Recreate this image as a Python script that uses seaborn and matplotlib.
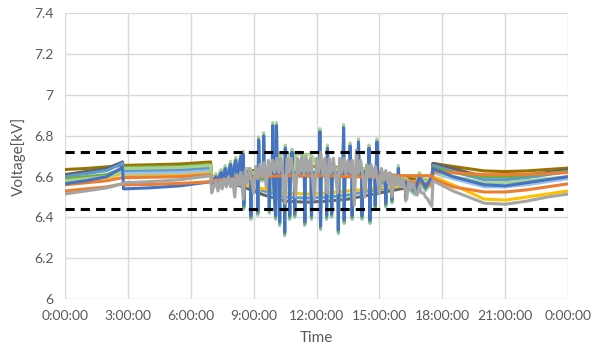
import matplotlib
matplotlib.use("Agg")
import matplotlib.pyplot as plt
import pandas as pd
import seaborn as sns

# time of day in hours
night_hours = [0, 1, 2, 2.75, 2.8, 4, 5.5, 6.95, 7.0]
evening_hours = [17.5, 17.55, 18.5, 20, 21, 22, 23, 24]
smooth_mid_hours = [7.5, 8.5, 9.5, 10.5, 11.5, 12.5, 13.5, 14.5, 15.5, 16.5]
spike_mid_hours = [7.05, 7.2, 7.25, 7.45, 7.5, 7.65, 7.7, 7.9, 7.95, 8.15,
                   8.2, 8.4, 8.45, 8.5, 8.53, 8.56, 8.85, 8.87, 8.9, 9.18,
                   9.2, 9.24, 9.28, 9.46, 9.48, 9.5, 9.73, 9.75, 9.78, 9.89,
                   9.91, 9.94, 10.05, 10.09, 10.12, 10.22, 10.24, 10.27, 10.46, 10.48,
                   10.51, 10.54, 10.7, 10.72, 10.75, 10.81, 10.83, 10.86, 10.94, 10.96,
                   10.99, 11.42, 11.44, 11.47, 11.74, 11.76, 11.79, 12.13, 12.16, 12.19,
                   12.22, 12.46, 12.48, 12.52, 12.55, 12.7, 12.72, 12.75, 13.02, 13.04,
                   13.07, 13.26, 13.29, 13.32, 13.35, 13.58, 13.6, 13.63, 13.68, 13.7,
                   13.73, 13.98, 14.0, 14.03, 14.15, 14.17, 14.2, 14.48, 14.5, 14.55,
                   14.58, 14.78, 14.8, 14.88, 14.92, 15.28, 15.3, 15.33, 15.58, 15.6,
                   15.63, 15.88, 15.9, 15.93, 16.23, 16.25, 16.28, 16.7, 16.9, 17.2, 17.45]
gray_mid_hours = [7.1, 7.2, 7.3, 7.4, 7.5, 7.6, 7.7, 7.8, 7.9, 8.0,
                  8.1, 8.2, 8.3, 8.4, 8.5, 8.6, 8.7, 8.8, 8.9, 9.0,
                  9.1, 9.2, 9.3, 9.4, 9.5, 9.6, 9.7, 9.8, 9.9, 10.0,
                  10.1, 10.2, 10.3, 10.4, 10.5, 10.6, 10.7, 10.8, 10.9, 11.0,
                  11.1, 11.2, 11.3, 11.4, 11.5, 11.6, 11.7, 11.8, 11.9, 12.0,
                  12.1, 12.2, 12.3, 12.4, 12.5, 12.6, 12.7, 12.8, 12.9, 13.0,
                  13.1, 13.2, 13.3, 13.4, 13.5, 13.6, 13.7, 13.8, 13.9, 14.0,
                  14.1, 14.2, 14.3, 14.4, 14.5, 14.6, 14.7, 14.8, 14.9, 15.0,
                  15.1, 15.2, 15.3, 15.4, 15.5, 15.6, 15.7, 15.8, 15.9, 16.0,
                  16.1, 16.2, 16.3, 16.4, 16.5, 16.6, 16.7, 16.8, 16.9, 17.0,
                  17.1, 17.2, 17.3, 17.4]

smooth_hours = night_hours + smooth_mid_hours + evening_hours
spike_hours = night_hours + spike_mid_hours + evening_hours
gray_hours = night_hours + gray_mid_hours + evening_hours

# voltage [kV] of each node
olive = [6.635, 6.64, 6.648, 6.655, 6.655, 6.658, 6.662, 6.672, 6.60,
         6.60, 6.62, 6.64, 6.65, 6.65, 6.65, 6.64, 6.63, 6.61, 6.59,
         6.58, 6.665, 6.65, 6.628, 6.625, 6.628, 6.635, 6.642]
dark_gray = [6.61, 6.625, 6.64, 6.672, 6.62, 6.622, 6.627, 6.635, 6.59,
             6.58, 6.55, 6.51, 6.48, 6.475, 6.48, 6.49, 6.51, 6.53, 6.55,
             6.57, 6.665, 6.64, 6.60, 6.60, 6.61, 6.62, 6.635]
light_blue = [6.60, 6.615, 6.63, 6.665, 6.628, 6.63, 6.635, 6.645, 6.59,
              6.58, 6.56, 6.53, 6.50, 6.495, 6.50, 6.51, 6.53, 6.545, 6.56,
              6.57, 6.655, 6.625, 6.585, 6.585, 6.595, 6.61, 6.625]
gold = [6.575, 6.585, 6.595, 6.615, 6.605, 6.607, 6.61, 6.62, 6.575,
        6.575, 6.56, 6.54, 6.52, 6.515, 6.52, 6.53, 6.54, 6.55, 6.555,
        6.55, 6.60, 6.56, 6.49, 6.485, 6.50, 6.515, 6.53]
orange2 = [6.56, 6.57, 6.58, 6.595, 6.595, 6.597, 6.60, 6.61, 6.585,
           6.59, 6.60, 6.605, 6.61, 6.61, 6.61, 6.605, 6.60, 6.59, 6.575,
           6.56, 6.625, 6.62, 6.61, 6.61, 6.612, 6.615, 6.62]
orange = [6.53, 6.54, 6.55, 6.565, 6.56, 6.562, 6.567, 6.575, 6.58,
          6.585, 6.59, 6.60, 6.605, 6.605, 6.605, 6.60, 6.60, 6.605, 6.605,
          6.605, 6.59, 6.55, 6.525, 6.525, 6.535, 6.55, 6.565]

blue = [6.565, 6.58, 6.60, 6.645, 6.54, 6.545, 6.555, 6.575, 6.56,
        6.57, 6.60, 6.57, 6.62, 6.58, 6.64, 6.58, 6.66, 6.59, 6.68,
        6.60, 6.70, 6.60, 6.71, 6.46, 6.62, 6.62, 6.41, 6.60, 6.60,
        6.43, 6.78, 6.60, 6.60, 6.80, 6.60, 6.60, 6.44, 6.62, 6.62,
        6.85, 6.60, 6.41, 6.85, 6.62, 6.62, 6.38, 6.64, 6.62, 6.33,
        6.74, 6.62, 6.62, 6.41, 6.62, 6.62, 6.72, 6.62, 6.62, 6.42,
        6.62, 6.62, 6.38, 6.62, 6.62, 6.41, 6.62, 6.62, 6.82, 6.36,
        6.62, 6.62, 6.41, 6.74, 6.62, 6.62, 6.42, 6.62, 6.62, 6.34,
        6.62, 6.62, 6.84, 6.39, 6.62, 6.62, 6.75, 6.62, 6.62, 6.41,
        6.62, 6.62, 6.77, 6.62, 6.62, 6.41, 6.62, 6.62, 6.74, 6.39,
        6.62, 6.60, 6.46, 6.77, 6.58, 6.58, 6.47, 6.58, 6.58, 6.49,
        6.58, 6.58, 6.64, 6.58, 6.57, 6.50, 6.57, 6.53, 6.60, 6.55, 6.59,
        6.60, 6.64, 6.60, 6.56, 6.555, 6.57, 6.585, 6.60]
light_green = [6.58, 6.59, 6.60, 6.62, 6.64, 6.642, 6.645, 6.655, 6.58,
               6.58, 6.615, 6.585, 6.635, 6.595, 6.655, 6.595, 6.675, 6.605, 6.695,
               6.615, 6.715, 6.62, 6.725, 6.50, 6.64, 6.64, 6.45, 6.62, 6.62,
               6.47, 6.795, 6.62, 6.62, 6.815, 6.62, 6.62, 6.48, 6.64, 6.64,
               6.865, 6.62, 6.45, 6.865, 6.64, 6.71, 6.42, 6.71, 6.71, 6.37,
               6.755, 6.71, 6.71, 6.45, 6.71, 6.71, 6.735, 6.71, 6.71, 6.46,
               6.71, 6.71, 6.42, 6.71, 6.71, 6.45, 6.70, 6.64, 6.835, 6.40,
               6.64, 6.64, 6.45, 6.755, 6.64, 6.64, 6.46, 6.64, 6.64, 6.38,
               6.64, 6.64, 6.855, 6.43, 6.64, 6.64, 6.765, 6.64, 6.64, 6.45,
               6.64, 6.64, 6.785, 6.64, 6.64, 6.45, 6.64, 6.64, 6.755, 6.43,
               6.64, 6.62, 6.50, 6.785, 6.60, 6.60, 6.51, 6.60, 6.60, 6.53,
               6.60, 6.60, 6.655, 6.60, 6.59, 6.54, 6.59, 6.55, 6.62, 6.57, 6.60,
               6.56, 6.63, 6.60, 6.57, 6.57, 6.58, 6.59, 6.60]
green = [6.59, 6.60, 6.61, 6.64, 6.645, 6.647, 6.65, 6.66, 6.58,
         6.565, 6.59, 6.565, 6.61, 6.575, 6.63, 6.575, 6.65, 6.585, 6.67,
         6.595, 6.69, 6.595, 6.70, 6.45, 6.61, 6.61, 6.40, 6.59, 6.59,
         6.42, 6.75, 6.59, 6.59, 6.77, 6.59, 6.59, 6.43, 6.61, 6.61,
         6.82, 6.59, 6.40, 6.82, 6.61, 6.61, 6.37, 6.63, 6.61, 6.32,
         6.71, 6.61, 6.61, 6.40, 6.61, 6.61, 6.69, 6.61, 6.61, 6.41,
         6.61, 6.61, 6.37, 6.61, 6.61, 6.40, 6.61, 6.61, 6.79, 6.35,
         6.61, 6.61, 6.40, 6.71, 6.61, 6.61, 6.41, 6.61, 6.61, 6.33,
         6.61, 6.61, 6.81, 6.38, 6.61, 6.61, 6.72, 6.61, 6.61, 6.40,
         6.61, 6.61, 6.74, 6.61, 6.61, 6.40, 6.61, 6.61, 6.71, 6.38,
         6.61, 6.59, 6.45, 6.74, 6.57, 6.57, 6.46, 6.57, 6.57, 6.48,
         6.57, 6.57, 6.62, 6.57, 6.56, 6.49, 6.56, 6.52, 6.59, 6.54, 6.58,
         6.56, 6.645, 6.62, 6.60, 6.60, 6.605, 6.615, 6.625]
pale_blue = [6.585, 6.595, 6.605, 6.625, 6.615, 6.617, 6.62, 6.63, 6.575,
             6.56, 6.58, 6.56, 6.60, 6.57, 6.62, 6.57, 6.64, 6.58, 6.66,
             6.59, 6.68, 6.59, 6.69, 6.44, 6.60, 6.60, 6.39, 6.58, 6.58,
             6.41, 6.73, 6.58, 6.58, 6.75, 6.58, 6.58, 6.42, 6.60, 6.60,
             6.80, 6.58, 6.39, 6.80, 6.60, 6.60, 6.36, 6.62, 6.60, 6.31,
             6.69, 6.60, 6.60, 6.39, 6.60, 6.60, 6.67, 6.60, 6.60, 6.40,
             6.60, 6.60, 6.36, 6.60, 6.60, 6.39, 6.60, 6.60, 6.77, 6.34,
             6.60, 6.60, 6.39, 6.69, 6.60, 6.60, 6.40, 6.60, 6.60, 6.32,
             6.60, 6.60, 6.79, 6.37, 6.60, 6.60, 6.70, 6.60, 6.60, 6.39,
             6.60, 6.60, 6.72, 6.60, 6.60, 6.39, 6.60, 6.60, 6.69, 6.37,
             6.60, 6.58, 6.44, 6.72, 6.56, 6.56, 6.45, 6.56, 6.56, 6.47,
             6.56, 6.56, 6.60, 6.56, 6.55, 6.48, 6.55, 6.51, 6.58, 6.53, 6.57,
             6.55, 6.62, 6.59, 6.55, 6.55, 6.56, 6.575, 6.59]

gray = [6.515, 6.53, 6.545, 6.565, 6.57, 6.575, 6.585, 6.605, 6.52,
        6.55, 6.58, 6.53, 6.58, 6.54, 6.59, 6.55, 6.60, 6.55, 6.59,
        6.50, 6.61, 6.56, 6.62, 6.49, 6.63, 6.57, 6.64, 6.58, 6.52,
        6.65, 6.59, 6.66, 6.60, 6.67, 6.55, 6.68, 6.61, 6.68, 6.62,
        6.69, 6.62, 6.69, 6.61, 6.47, 6.69, 6.62, 6.69, 6.61, 6.50,
        6.69, 6.62, 6.70, 6.61, 6.70, 6.62, 6.69, 6.60, 6.49, 6.69,
        6.62, 6.72, 6.61, 6.69, 6.52, 6.69, 6.62, 6.69, 6.61, 6.52,
        6.69, 6.62, 6.69, 6.61, 6.68, 6.62, 6.68, 6.46, 6.73, 6.62,
        6.68, 6.61, 6.50, 6.66, 6.60, 6.66, 6.59, 6.65, 6.59, 6.52,
        6.64, 6.58, 6.63, 6.57, 6.62, 6.50, 6.61, 6.56, 6.60, 6.55,
        6.59, 6.55, 6.49, 6.58, 6.54, 6.57, 6.53, 6.51, 6.55, 6.52,
        6.52, 6.50, 6.49, 6.47,
        6.455, 6.58, 6.53, 6.47, 6.465, 6.48, 6.50, 6.515]

# drawing order (first = bottom): values, time grid, colour
series = {
    "olive": (olive, smooth_hours, "#997300"),
    "dark_gray": (dark_gray, smooth_hours, "#636363"),
    "light_blue": (light_blue, smooth_hours, "#5B9BD5"),
    "gold": (gold, smooth_hours, "#FFC000"),
    "pale_blue": (pale_blue, spike_hours, "#9DC3E6"),
    "green": (green, spike_hours, "#70AD47"),
    "light_green": (light_green, spike_hours, "#A9D18E"),
    "orange2": (orange2, smooth_hours, "#ED7D31"),
    "blue": (blue, spike_hours, "#4472C4"),
    "orange": (orange, smooth_hours, "#ED7D31"),
    "gray": (gray, gray_hours, "#A5A5A5"),
}

upper_limit = 6.72
lower_limit = 6.44

xticks = [0, 3, 6, 9, 12, 15, 18, 21, 24]
xlabels = ["0:00:00", "3:00:00", "6:00:00", "9:00:00", "12:00:00",
           "15:00:00", "18:00:00", "21:00:00", "0:00:00"]
yticks = [6, 6.2, 6.4, 6.6, 6.8, 7, 7.2, 7.4]
ylabels = ["6", "6.2", "6.4", "6.6", "6.8", "7", "7.2", "7.4"]

rows = []
for name, (vals, hrs, _) in series.items():
    assert len(vals) == len(hrs), (name, len(vals), len(hrs))
    for h, v in zip(hrs, vals):
        rows.append({"hour": h, "voltage": v, "node": name})
df = pd.DataFrame(rows)
palette = {name: c for name, (_, _, c) in series.items()}

sns.set_style("white")
plt.rcParams['font.family'] = ['Lato', 'DejaVu Sans']

fig, ax = plt.subplots(figsize=(5.95, 3.6), dpi=100)
fig.subplots_adjust(left=0.109, right=0.955, top=0.963, bottom=0.169)

sns.lineplot(data=df, x="hour", y="voltage", hue="node",
             hue_order=list(series.keys()), palette=palette,
             errorbar=None, legend=False, linewidth=2.2, ax=ax, zorder=3)

for lim in [upper_limit, lower_limit]:
    ax.axhline(lim, color="black", linewidth=2.2, dashes=(3, 2), zorder=4)

ax.set_xlim(0, 24)
ax.set_ylim(6, 7.4)
ax.set_xticks(xticks)
ax.set_xticklabels(xlabels)
ax.set_yticks(yticks)
ax.set_yticklabels(ylabels)
ax.grid(True, color="#D9D9D9", linewidth=1)
ax.set_axisbelow(True)
for s in ax.spines.values():
    s.set_visible(False)
ax.tick_params(axis="both", length=0, labelsize=10, labelcolor="#595959", pad=8)
ax.set_xlabel("Time", fontsize=11, color="#595959", labelpad=6)
ax.set_ylabel("Voltage[kV]", fontsize=11, color="#595959", labelpad=6)

fig.savefig("out.png", dpi=100)
